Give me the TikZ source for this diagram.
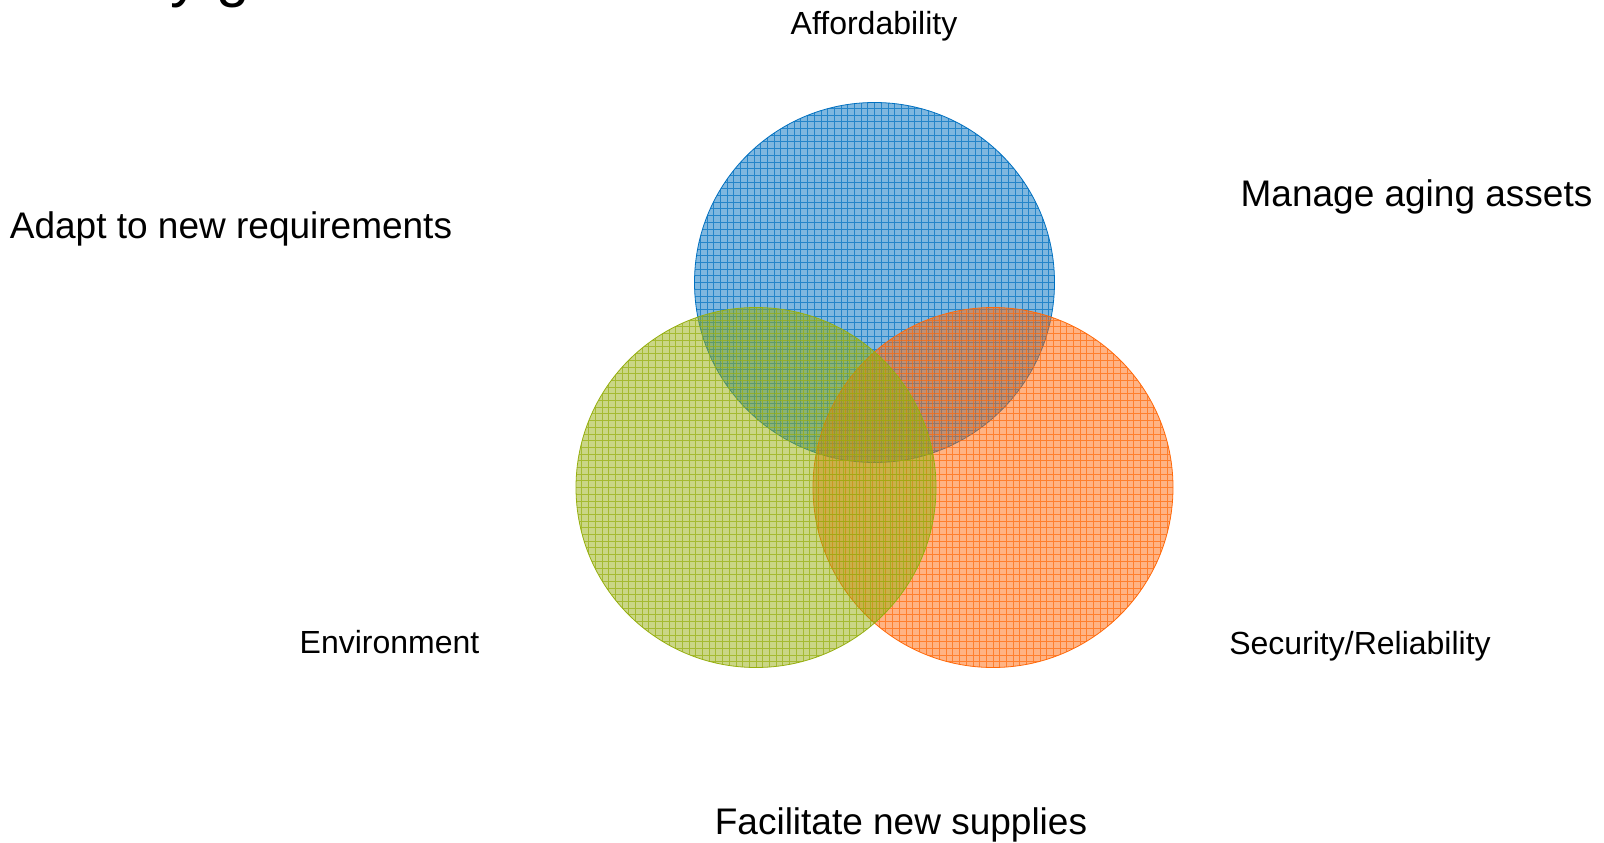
\documentclass[tikz,border=0pt]{standalone}
\usepackage{fontspec}
\setmainfont{Liberation Sans}
\usetikzlibrary{positioning}
\pgfdeclarelayer{background layer}
\pgfsetlayers{background layer,main}
\definecolor{affblue}{RGB}{0,112,192}
\definecolor{envgreen}{RGB}{150,175,15}
\definecolor{secorange}{RGB}{255,105,10}

\begin{document}
\begin{tikzpicture}[x=1pt,y=-1pt]
\tikzstyle{goal}=[circle,minimum size=360pt,inner sep=0pt,fill opacity=0.5,line width=0.8pt]
\tikzstyle{smalllabel}=[font=\fontsize{32}{38}\selectfont,inner sep=0pt]
\tikzstyle{biglabel}=[font=\fontsize{37}{44}\selectfont,inner sep=0pt]
\useasboundingbox (0,0) rectangle (1604,843);
% title, only its lower edge shows
\node [anchor=base west,font=\fontsize{60}{72}\selectfont,inner sep=0pt] at (170,-4) (title) {y g};
% the three goals, green last so it lies on top
\node [goal,draw=affblue,fill=affblue,path picture={\draw [affblue,draw opacity=0.7,line width=0.7pt,step=6.7pt] (path picture bounding box.south west) grid (path picture bounding box.north east);}] at (874.5,282.5) (afford) {};
\node [goal,draw=secorange,fill=secorange,path picture={\draw [secorange,draw opacity=0.7,line width=0.7pt,step=6.7pt] (path picture bounding box.south west) grid (path picture bounding box.north east);}] at (993,487.5) (sec) {};
\node [goal,draw=envgreen,fill=envgreen,path picture={\draw [envgreen,draw opacity=0.7,line width=0.7pt,step=6.7pt] (path picture bounding box.south west) grid (path picture bounding box.north east);}] at (756,487.5) (env) {};
% labels
\node [smalllabel] at (874,26) (afflabel) {Affordability};
\node [smalllabel] at (389.5,642) (envlabel) {Environment};
\node [smalllabel] at (1360,646) (seclabel) {Security/Reliability};
\node [biglabel] at (231,229) (adapt) {Adapt to new requirements};
\node [biglabel] at (1416.5,197) (aging) {Manage aging assets};
\node [biglabel] at (901,825) (supplies) {Facilitate new supplies};
\begin{pgfonlayer}{background layer}
\fill [white] (0,0) rectangle (1604,843);
\end{pgfonlayer}
\end{tikzpicture}
\end{document}
